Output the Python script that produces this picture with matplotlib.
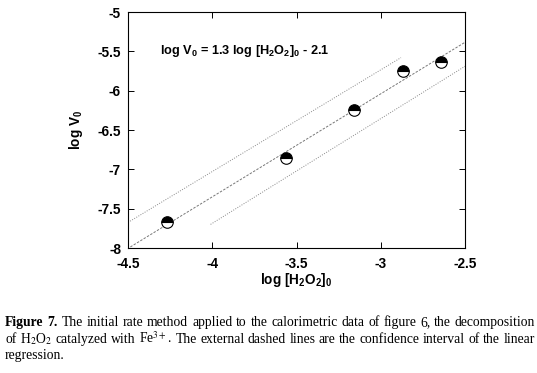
import numpy as np
import matplotlib
matplotlib.use("Agg")
import matplotlib.pyplot as plt
from matplotlib.ticker import FuncFormatter

plt.rcParams['font.family'] = ['Liberation Sans', 'DejaVu Sans']
plt.rcParams['axes.unicode_minus'] = False
plt.rcParams['mathtext.fontset'] = 'custom'
plt.rcParams['mathtext.rm'] = 'Liberation Sans:bold'
plt.rcParams['mathtext.it'] = 'Liberation Sans:bold:italic'
plt.rcParams['mathtext.bf'] = 'Liberation Sans:bold'

# measured points
log_h2o2 = [-4.27, -3.56, -3.16, -2.87, -2.64]
log_v0 = [-7.67, -6.85, -6.24, -5.75, -5.64]

# regression line and confidence limits (slope, intercept, x range)
fit_slope, fit_icept = 1.31, -2.11
fit_x = [-4.486, -2.5]
upper_x = [-4.5, -2.88]
upper_y = [-7.675, -5.58]
lower_x = [-4.01, -2.5]
lower_y = [-7.70, -5.69]

x_ticks = [-4.5, -4, -3.5, -3, -2.5]
y_ticks = [-8, -7.5, -7, -6.5, -6, -5.5, -5]

caption_line1 = ["The", "initial", "rate", "method", "applied", "to", "the",
                 "calorimetric", "data", "of", "figure", "6,", "the", "decomposition"]
caption_line2 = ["of", "H$_2$O$_2$", "catalyzed", "with", "Fe$^{3+}$.", "The",
                 "external", "dashed", "lines", "are", "the", "confidence", "interval",
                 "of", "the", "linear"]
caption_line3 = "regression."

W, H = 537, 373
fig = plt.figure(figsize=(W / 100, H / 100), dpi=100)
ax = fig.add_axes([128 / W, 1 - 248 / H, (465 - 128) / W, (248 - 12) / H])

fx = np.array(fit_x)
ax.plot(fx, fit_slope * fx + fit_icept, color='#777777', lw=0.7,
        linestyle=(0, (2.5, 1.5)))
ax.plot(upper_x, upper_y, color='#888888', lw=0.7, linestyle=(0, (1, 1.5)))
ax.plot(lower_x, lower_y, color='#888888', lw=0.7, linestyle=(0, (1, 1.5)))
ax.plot(log_h2o2, log_v0, 'o', markersize=8.3, fillstyle='top',
        markerfacecolor='black', markerfacecoloralt='white',
        markeredgecolor='black', markeredgewidth=0.8, linestyle='none')

ax.set_xlim(-4.5, -2.5)
ax.set_ylim(-8, -5)
ax.set_xticks(x_ticks)
ax.set_yticks(y_ticks)
fmt = FuncFormatter(lambda v, p: '%g' % v)
ax.xaxis.set_major_formatter(fmt)
ax.yaxis.set_major_formatter(fmt)
ax.tick_params(direction='in', top=True, right=True, length=4, width=0.7,
               labelsize=9.8, pad=5)
ax.tick_params(axis='x', pad=6.5)
for lab in ax.get_xticklabels() + ax.get_yticklabels():
    lab.set_fontweight('bold')
for s in ax.spines.values():
    s.set_linewidth(0.8)

ax.set_xlabel('log [H$_2$O$_2$]$_0$', fontsize=9.8, fontweight='bold', labelpad=0)
ax.set_ylabel('log V$_0$', fontsize=9.8, fontweight='bold', labelpad=9)
ax.text(-4.31, -5.5, 'log V$_0$ = 1.3 log [H$_2$O$_2$]$_0$ - 2.1', fontsize=9.2,
        fontweight='bold', va='center', ha='left')

# caption, justified like the journal page
renderer = fig.canvas.get_renderer()
serif = ['Liberation Serif', 'DejaVu Serif']
cap_size = 9.8


def place_justified(words, y, x0, x1):
    texts = []
    for w, kw in words:
        t = fig.text(0, y, w, fontsize=cap_size, family=serif,
                     math_fontfamily='stix', va='baseline', **kw)
        texts.append(t)
    widths = [t.get_window_extent(renderer).width for t in texts]
    gap = (x1 - x0 - sum(widths)) / (len(texts) - 1)
    x = x0
    for t, w in zip(texts, widths):
        t.set_x(x / W)
        x += w + gap


line1 = [("Figure", {'fontweight': 'bold'}), ("7.", {'fontweight': 'bold'})]
line1 += [(w, {}) for w in caption_line1]
place_justified(line1, 1 - 326 / H, 5, 535)
place_justified([(w, {}) for w in caption_line2], 1 - 343 / H, 5, 535)
fig.text(5 / W, 1 - 359 / H, caption_line3, fontsize=cap_size, family=serif,
         va='baseline')

fig.savefig('out.png', dpi=100)
